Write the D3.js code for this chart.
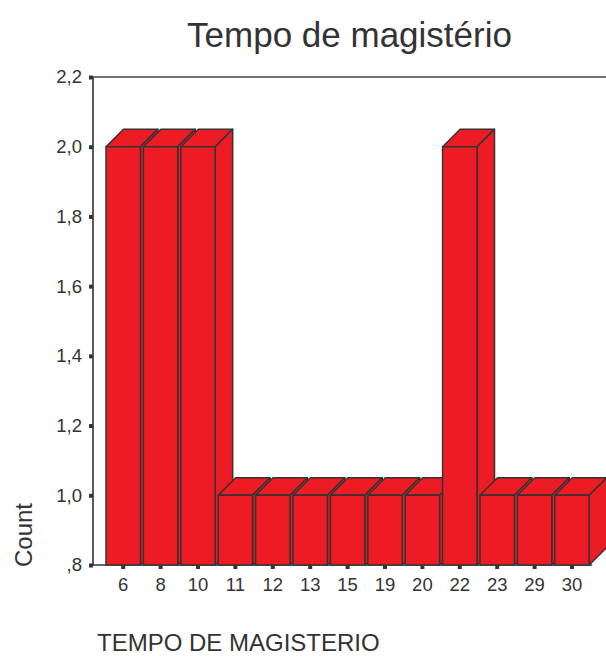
<!DOCTYPE html>
<html>
<head>
<meta charset="utf-8">
<script src="https://cdn.jsdelivr.net/npm/d3@7"></script>
<style>
  html, body { margin: 0; padding: 0; background: #fff; }
  svg { display: block; font-family: "Liberation Sans", Arial, Helvetica, sans-serif; }
</style>
</head>
<body>
<svg id="chart" width="606" height="657"></svg>
<script>
// Teaching experience (years) and number of respondents
const categories = ["6", "8", "10", "11", "12", "13", "15", "19", "20", "22", "23", "29", "30"];
const counts = [2, 2, 2, 1, 1, 1, 1, 1, 1, 2, 1, 1, 1];
const yTicks = [0.8, 1.0, 1.2, 1.4, 1.6, 1.8, 2.0, 2.2];
const yTickLabels = [",8", "1,0", "1,2", "1,4", "1,6", "1,8", "2,0", "2,2"];

const svg = d3.select("#chart");
const W = 606;
const axisX = 93, topY = 77, baseY = 565;
const depth = 17.5;
const ink = "#333";
const red = "#ED1C24";
const font = "Liberation Sans, Arial, Helvetica, sans-serif";

const y = d3.scaleLinear().domain([0.8, 2.2]).range([baseY, topY]);
const x = d3.scaleBand().domain(categories).range([103, 592.2]).padding(0.08);

// title, centred over the plot area
svg.append("text")
  .attr("x", (axisX + W) / 2).attr("y", 47)
  .attr("text-anchor", "middle")
  .attr("font-size", 35)
  .attr("fill", ink)
  .text("Tempo de magistério");

// frame lines
svg.append("line").attr("x1", axisX).attr("x2", W).attr("y1", topY).attr("y2", topY)
  .attr("stroke", "#444").attr("stroke-width", 1.6);
svg.append("line").attr("x1", axisX).attr("x2", axisX).attr("y1", topY).attr("y2", baseY)
  .attr("stroke", ink).attr("stroke-width", 1.6);
svg.append("line").attr("x1", axisX).attr("x2", x.range()[1]).attr("y1", baseY).attr("y2", baseY)
  .attr("stroke", ink).attr("stroke-width", 1.6);

// 3D bars, painted left to right so each bar hides its neighbour's side face
const bars = svg.append("g").attr("stroke", ink).attr("stroke-width", 1.5)
  .attr("stroke-linejoin", "round").attr("fill", red);
categories.forEach((c, i) => {
  const x0 = x(c), x1 = x0 + x.bandwidth(), yt = y(counts[i]);
  const g = bars.append("g");
  g.append("polygon").attr("points",
    [[x0, yt], [x0 + depth, yt - depth], [x1 + depth, yt - depth], [x1, yt]].join(" "));
  g.append("polygon").attr("points",
    [[x1, yt], [x1 + depth, yt - depth], [x1 + depth, baseY - depth], [x1, baseY]].join(" "));
  g.append("rect").attr("x", x0).attr("y", yt).attr("width", x1 - x0).attr("height", baseY - yt);
});

// y axis with square tick marks
const yAxis = svg.append("g")
  .attr("transform", `translate(${axisX},0)`)
  .call(d3.axisLeft(y).tickValues(yTicks)
    .tickFormat((d, i) => yTickLabels[i]).tickSizeInner(4).tickSizeOuter(0).tickPadding(7));
yAxis.select(".domain").remove();
yAxis.selectAll(".tick line").attr("stroke", ink).attr("stroke-width", 4);
yAxis.selectAll(".tick text").attr("font-size", 18.5).attr("fill", ink).attr("font-family", font);

// x axis with square tick marks
const xAxis = svg.append("g")
  .attr("transform", `translate(0,${baseY})`)
  .call(d3.axisBottom(x).tickSizeInner(4).tickSizeOuter(0).tickPadding(9));
xAxis.select(".domain").remove();
xAxis.selectAll(".tick line").attr("stroke", ink).attr("stroke-width", 4);
xAxis.selectAll(".tick text").attr("font-size", 18.5).attr("fill", ink).attr("font-family", font);

// axis titles
svg.append("text")
  .attr("transform", "translate(32,567) rotate(-90)")
  .attr("font-size", 24).attr("fill", ink)
  .text("Count");
svg.append("text")
  .attr("x", 97).attr("y", 651)
  .attr("font-size", 24).attr("fill", ink)
  .text("TEMPO DE MAGISTERIO");
</script>
</body>
</html>
